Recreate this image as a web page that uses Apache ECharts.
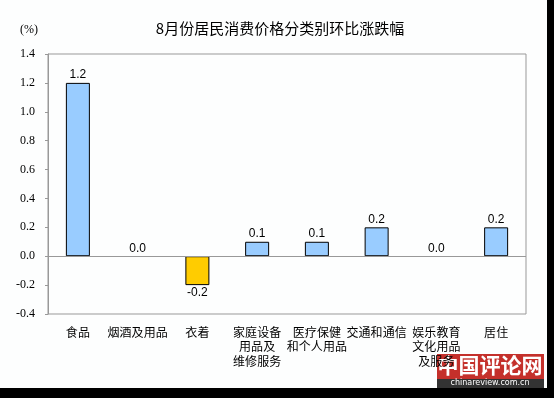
<!DOCTYPE html>
<html lang="zh">
<head>
<meta charset="UTF-8" />
<style>
  html, body { margin: 0; padding: 0; background: #000; }
  #main { width: 547px; height: 388px; background: #fdfefe; }
</style>
</head>
<body>
<div id="main"></div>
<script src="https://cdn.jsdelivr.net/npm/echarts@6/dist/echarts.min.js"></script>
<script>
// 分类及环比涨跌幅(%)
var categories = ['食品', '烟酒及用品', '衣着', '家庭设备\n用品及\n维修服务', '医疗保健\n和个人用品', '交通和通信', '娱乐教育\n文化用品\n及服务', '居住'];
var values = [1.2, 0.0, -0.2, 0.1, 0.1, 0.2, 0.0, 0.2];
var yMin = -0.4, yMax = 1.4, yStep = 0.2;

var myChart = echarts.init(document.getElementById('main'));

var barData = values.map(function (v) {
  return {
    value: v,
    itemStyle: { color: v < 0 ? '#ffcc00' : '#99ccff', borderWidth: v === 0 ? 0 : 1 },
    label: { position: v < 0 ? 'bottom' : 'top' }
  };
});

var option = {
  animation: false,
  title: {
    text: '8月份居民消费价格分类别环比涨跌幅',
    left: 275, top: 16, textAlign: 'center',
    textStyle: { fontFamily: 'Noto Sans CJK SC', fontSize: 15, fontWeight: 'normal', color: '#000' }
  },
  grid: { left: 48, right: 21, top: 54, bottom: 74, show: true, borderColor: '#999', borderWidth: 1 },
  xAxis: {
    type: 'category',
    data: categories,
    axisLine: { onZero: false, show: false },
    axisTick: { show: false },
    axisLabel: {
      interval: 0, margin: 11, lineHeight: 14.5,
      fontFamily: 'Noto Sans CJK SC', fontSize: 12, color: '#000'
    }
  },
  yAxis: {
    type: 'value',
    min: yMin, max: yMax, interval: yStep,
    name: '(%)',
    nameLocation: 'end', nameGap: 18,
    nameTextStyle: { fontFamily: 'Liberation Serif', fontSize: 12, color: '#000', align: 'right', padding: [0, 10, 0, 0] },
    axisLine: { show: true, lineStyle: { color: '#999' } },
    axisTick: { show: true, inside: false, length: 3, lineStyle: { color: '#999' } },
    splitLine: { show: false },
    axisLabel: {
      margin: 13,
      fontFamily: 'Liberation Serif', fontSize: 12, color: '#000',
      formatter: function (v) { return v.toFixed(1); }
    }
  },
  series: [{
    type: 'bar',
    data: barData,
    barWidth: 24,
    itemStyle: { borderColor: '#000', borderWidth: 1 },
    label: {
      show: true, distance: 2,
      fontFamily: 'Liberation Sans', fontSize: 12, color: '#000',
      formatter: function (p) { return p.value.toFixed(1); }
    },
    markLine: {
      silent: true, symbol: 'none', label: { show: false },
      lineStyle: { color: '#999', type: 'solid', width: 1 },
      data: [{ yAxis: 0 }]
    }
  }],
  graphic: [{
    type: 'group', right: 3, bottom: 0,
    children: [
      { type: 'rect', shape: { x: 0, y: 0, width: 107, height: 34 }, style: { fill: '#c4302b' } },
      { type: 'text', x: 53, y: 1, style: { text: '中国评论网', fill: '#fff', font: 'bold 21px "Noto Sans CJK SC"', align: 'center' } },
      { type: 'rect', shape: { x: 0, y: 25, width: 107, height: 9 }, style: { fill: '#333' } },
      { type: 'text', x: 53, y: 25, style: { text: 'chinareview.com.cn', fill: '#fff', font: '8px "DejaVu Sans"', align: 'center' } }
    ]
  }]
};

myChart.setOption(option);
</script>
</body>
</html>
